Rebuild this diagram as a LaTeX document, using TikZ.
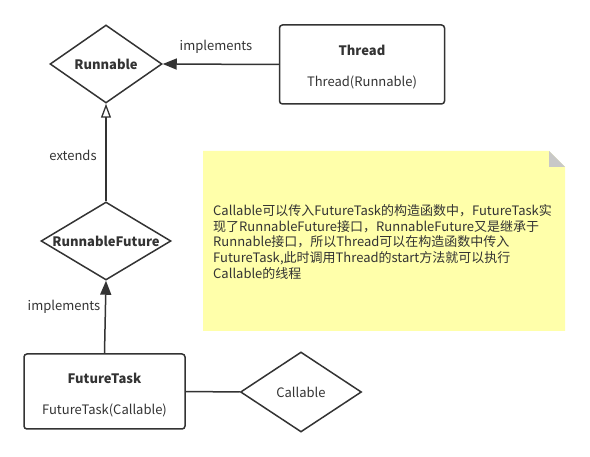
\documentclass[tikz,border=0pt]{standalone}
\usepackage{fontspec}
\setmainfont{Noto Sans CJK SC}
\usetikzlibrary{shapes.geometric,arrows.meta}
\definecolor{ink}{HTML}{333333}
\definecolor{noteyellow}{HTML}{FFFFAA}
\definecolor{foldgray}{HTML}{C8C8C8}
\begin{document}
\begin{tikzpicture}[x=1pt,y=-1pt,
  every node/.style={text=ink},
  txt/.style={font=\fontsize{13}{15}\selectfont},
  btxt/.style={font=\fontsize{13}{15}\selectfont\bfseries},
  dia/.style={diamond,draw=ink,line width=1.5pt,inner sep=0pt,font=\fontsize{13}{15}\selectfont\bfseries},
  box/.style={draw=ink,line width=1.5pt,rounded corners=3pt,inner sep=0pt},
  conn/.style={draw=ink,line width=1.5pt},
  filledtip/.style={-{Triangle[length=14pt,width=11pt]}},
  opentip/.style={-{Triangle[open,length=14pt,width=10pt,line width=1.3pt]}}
]
\useasboundingbox (0,0) rectangle (590,457);

% note
\fill[noteyellow] (203,151) -- (549,151) -- (565,167) -- (565,331) -- (203,331) -- cycle;
\fill[foldgray] (549,151) -- (565,167) -- (549,167) -- cycle;
\node[anchor=west,align=left,inner sep=0pt,font=\fontsize{13}{15.8}\selectfont] (note) at (213,242)
 {Callable可以传入FutureTask的构造函数中，FutureTask实\\
  现了RunnableFuture接口，RunnableFuture又是继承于\\
  Runnable接口，所以Thread可以在构造函数中传入\\
  FutureTask,此时调用Thread的start方法就可以执行\\
  Callable的线程};

% nodes
\node[dia,shape aspect=1.44,minimum width=112pt,minimum height=78pt] (runnable) at (106,64) {Runnable};
\node[dia,shape aspect=1.67,minimum width=130pt,minimum height=78pt] (rfuture) at (106,241) {RunnableFuture};
\node[dia,shape aspect=1.5,minimum width=121pt,minimum height=80pt,font=\fontsize{13}{15}\selectfont] (callable) at (301,392) {Callable};

\node[box,minimum width=165pt,minimum height=79pt] (thread) at (362,64.5) {};
\node[btxt] (threadT) at (362,50) {Thread};
\node[txt] (threadS) at (362,82) {Thread(Runnable)};

\node[box,minimum width=161pt,minimum height=75pt] (ftask) at (104.5,391.5) {};
\node[btxt] (ftaskT) at (104.5,378) {FutureTask};
\node[txt] (ftaskS) at (104.5,410) {FutureTask(Callable)};

% connectors
\draw[conn,filledtip] (thread.west) -- (runnable.east);
\draw[conn,opentip] (rfuture.north) -- (runnable.south);
\draw[conn,filledtip] (ftask.north) -- (rfuture.south);
\draw[conn] (ftask.east) -- (callable.west);

% labels
\node[txt] (lbl1) at (216,47) {implements};
\node[txt] (lbl2) at (73,155) {extends};
\node[txt] (lbl3) at (64,307) {implements};
\end{tikzpicture}
\end{document}
